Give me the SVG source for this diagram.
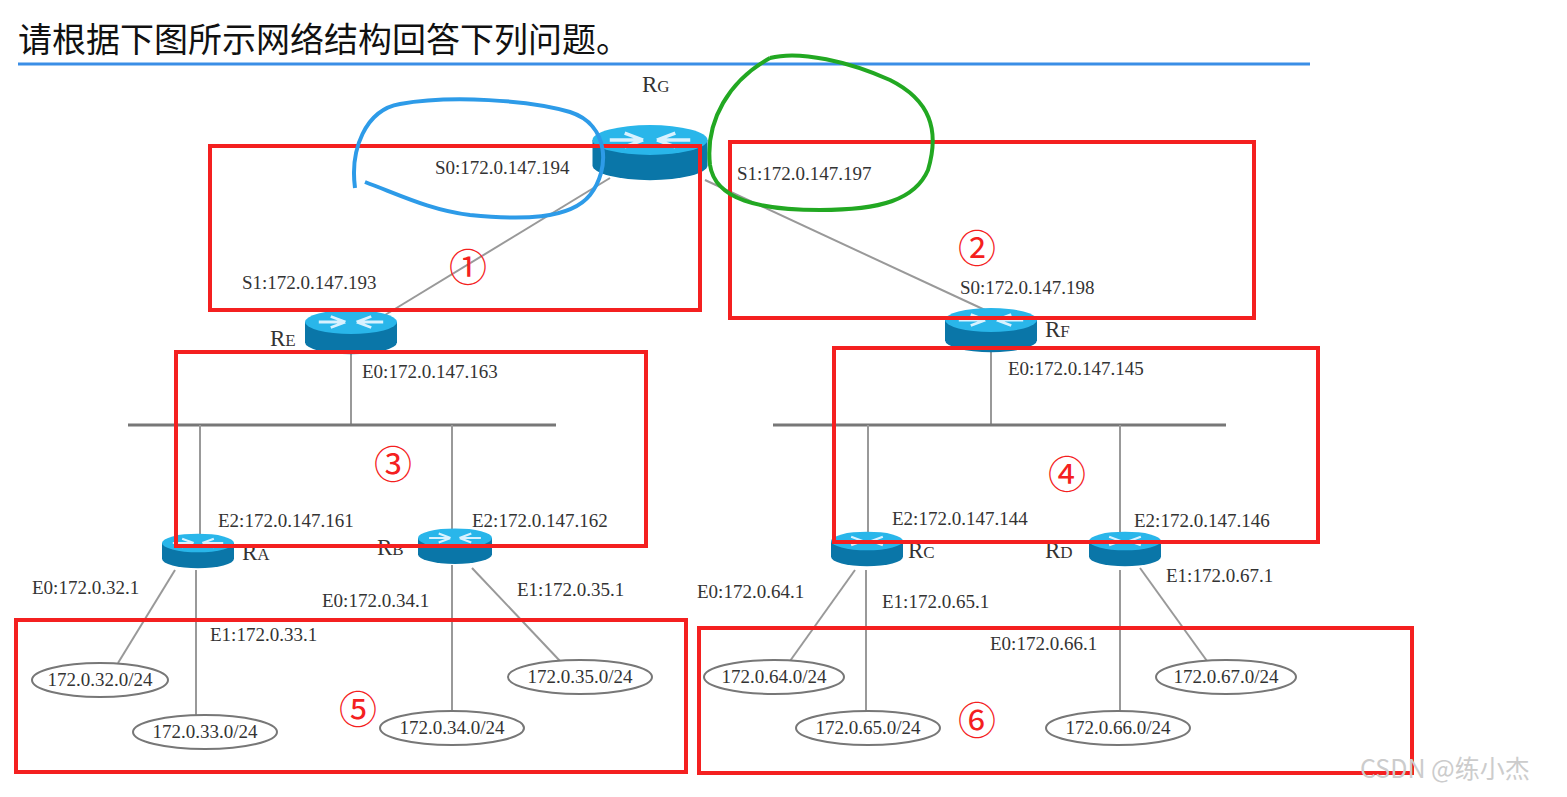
<svg xmlns="http://www.w3.org/2000/svg" xmlns:xlink="http://www.w3.org/1999/xlink" width="1567" height="797" viewBox="0 0 1567 797">
<style>
.l{stroke:#999;stroke-width:2;fill:none}
.bus{stroke:#777;stroke-width:3}
.t{font-family:"Liberation Serif",serif;font-size:19px;fill:#333}
.rn{font-family:"Liberation Serif",serif;font-size:23px;fill:#333}
.net{fill:#fff;stroke:#777;stroke-width:2}
.box{fill:none;stroke:#f42020;stroke-width:4}
.num{font-family:"Noto Sans CJK SC","DejaVu Sans",sans-serif;font-size:38px;fill:#f42020;text-anchor:middle}
</style>
<defs>
<g id="router">
<path d="M-50,0 L-50,22 A50,13 0 0 0 50,22 L50,0 Z" fill="#0a76a8"/>
<ellipse cx="0" cy="0" rx="50" ry="13" fill="#29b6ea"/>
<path d="M-22,-6 L-6,0 M-22,6 L-6,0 M22,-6 L6,0 M22,6 L6,0 M-35,0 L-8,0 M8,0 L35,0" stroke="#d8f2ff" stroke-width="3" fill="none"/>
</g>
</defs>
<rect width="1567" height="797" fill="#fff"/>
<text x="18" y="52" font-family="Noto Sans CJK SC,sans-serif" font-size="34" fill="#111">请根据下图所示网络结构回答下列问题。</text>
<line x1="18" y1="64" x2="1310" y2="64" stroke="#3a8ee6" stroke-width="3"/>
<g id="connectors">
<line class="l" x1="610" y1="178" x2="385" y2="315"/>
<line class="l" x1="705" y1="180" x2="985" y2="310"/>
<line class="l" x1="351" y1="350" x2="351" y2="425"/>
<line class="bus" x1="128" y1="425" x2="556" y2="425"/>
<line class="l" x1="200" y1="425" x2="200" y2="540"/>
<line class="l" x1="452" y1="425" x2="452" y2="535"/>
<line class="l" x1="991" y1="350" x2="991" y2="425"/>
<line class="bus" x1="773" y1="425" x2="1226" y2="425"/>
<line class="l" x1="868" y1="425" x2="868" y2="540"/>
<line class="l" x1="1120" y1="425" x2="1120" y2="540"/>
<line class="l" x1="175" y1="570" x2="118" y2="663"/>
<line class="l" x1="196" y1="570" x2="196" y2="716"/>
<line class="l" x1="452" y1="565" x2="452" y2="711"/>
<line class="l" x1="472" y1="568" x2="560" y2="661"/>
<line class="l" x1="855" y1="570" x2="790" y2="661"/>
<line class="l" x1="866" y1="570" x2="866" y2="711"/>
<line class="l" x1="1120" y1="570" x2="1120" y2="711"/>
<line class="l" x1="1140" y1="568" x2="1207" y2="661"/>
</g>
<g id="RG"><use xlink:href="#router" transform="translate(650,140) scale(1.15)"/><text class="rn" x="642" y="92">R<tspan font-size="17">G</tspan></text></g>
<g id="RE"><use xlink:href="#router" transform="translate(351,322) scale(0.92)"/><text class="rn" x="270" y="346">R<tspan font-size="17">E</tspan></text></g>
<g id="RF"><use xlink:href="#router" transform="translate(991,320) scale(0.92)"/><text class="rn" x="1045" y="337">R<tspan font-size="17">F</tspan></text></g>
<g id="RA"><use xlink:href="#router" transform="translate(198,543) scale(0.72)"/><text class="rn" x="242" y="560">R<tspan font-size="17">A</tspan></text></g>
<g id="RB"><use xlink:href="#router" transform="translate(455,538) scale(0.74)"/><text class="rn" x="377" y="555">R<tspan font-size="17">B</tspan></text></g>
<g id="RC"><use xlink:href="#router" transform="translate(867,541) scale(0.72)"/><text class="rn" x="908" y="558">R<tspan font-size="17">C</tspan></text></g>
<g id="RD"><use xlink:href="#router" transform="translate(1125,541) scale(0.72)"/><text class="rn" x="1045" y="558">R<tspan font-size="17">D</tspan></text></g>
<g id="labels">
<text class="t" x="435" y="174">S0:172.0.147.194</text>
<text class="t" x="737" y="180">S1:172.0.147.197</text>
<text class="t" x="242" y="289">S1:172.0.147.193</text>
<text class="t" x="960" y="294">S0:172.0.147.198</text>
<text class="t" x="362" y="378">E0:172.0.147.163</text>
<text class="t" x="1008" y="375">E0:172.0.147.145</text>
<text class="t" x="218" y="527">E2:172.0.147.161</text>
<text class="t" x="472" y="527">E2:172.0.147.162</text>
<text class="t" x="892" y="525">E2:172.0.147.144</text>
<text class="t" x="1134" y="527">E2:172.0.147.146</text>
<text class="t" x="32" y="594">E0:172.0.32.1</text>
<text class="t" x="210" y="641">E1:172.0.33.1</text>
<text class="t" x="322" y="607">E0:172.0.34.1</text>
<text class="t" x="517" y="596">E1:172.0.35.1</text>
<text class="t" x="697" y="598">E0:172.0.64.1</text>
<text class="t" x="882" y="608">E1:172.0.65.1</text>
<text class="t" x="1166" y="582">E1:172.0.67.1</text>
<text class="t" x="990" y="650">E0:172.0.66.1</text>
</g>
<g id="nets">
<ellipse class="net" cx="100" cy="680" rx="68" ry="17"/><text class="t" x="100" y="686" text-anchor="middle">172.0.32.0/24</text>
<ellipse class="net" cx="205" cy="732" rx="72" ry="17"/><text class="t" x="205" y="738" text-anchor="middle">172.0.33.0/24</text>
<ellipse class="net" cx="452" cy="728" rx="72" ry="17"/><text class="t" x="452" y="734" text-anchor="middle">172.0.34.0/24</text>
<ellipse class="net" cx="580" cy="677" rx="72" ry="17"/><text class="t" x="580" y="683" text-anchor="middle">172.0.35.0/24</text>
<ellipse class="net" cx="774" cy="677" rx="70" ry="17"/><text class="t" x="774" y="683" text-anchor="middle">172.0.64.0/24</text>
<ellipse class="net" cx="868" cy="728" rx="72" ry="17"/><text class="t" x="868" y="734" text-anchor="middle">172.0.65.0/24</text>
<ellipse class="net" cx="1118" cy="728" rx="72" ry="17"/><text class="t" x="1118" y="734" text-anchor="middle">172.0.66.0/24</text>
<ellipse class="net" cx="1226" cy="677" rx="70" ry="17"/><text class="t" x="1226" y="683" text-anchor="middle">172.0.67.0/24</text>
</g>
<g id="boxes">
<rect class="box" x="210" y="146" width="490" height="164"/>
<rect class="box" x="730" y="142" width="524" height="176"/>
<rect class="box" x="176" y="352" width="470" height="194"/>
<rect class="box" x="834" y="348" width="484" height="194"/>
<rect class="box" x="16" y="620" width="670" height="152"/>
<rect class="box" x="699" y="628" width="713" height="145"/>
<text class="num" x="468" y="281">①</text>
<text class="num" x="977" y="262">②</text>
<text class="num" x="393" y="478">③</text>
<text class="num" x="1067" y="488">④</text>
<text class="num" x="358" y="723">⑤</text>
<text class="num" x="977" y="734">⑥</text>
</g>
<path d="M355,188 C350,150 365,110 400,104 C450,95 530,100 570,112 C610,125 610,170 590,195 C570,220 520,220 470,215 C430,210 400,195 365,182" fill="none" stroke="#2d9be8" stroke-width="4"/>
<path d="M770,58 C730,80 705,120 710,165 C715,200 760,210 820,210 C880,210 915,200 928,170 C940,130 930,100 890,80 C850,62 800,50 770,58" fill="none" stroke="#22a822" stroke-width="4"/>
<text x="1360" y="778" font-family="Noto Sans CJK SC,sans-serif" font-size="25" fill="#ccc">CSDN @练小杰</text>
</svg>
